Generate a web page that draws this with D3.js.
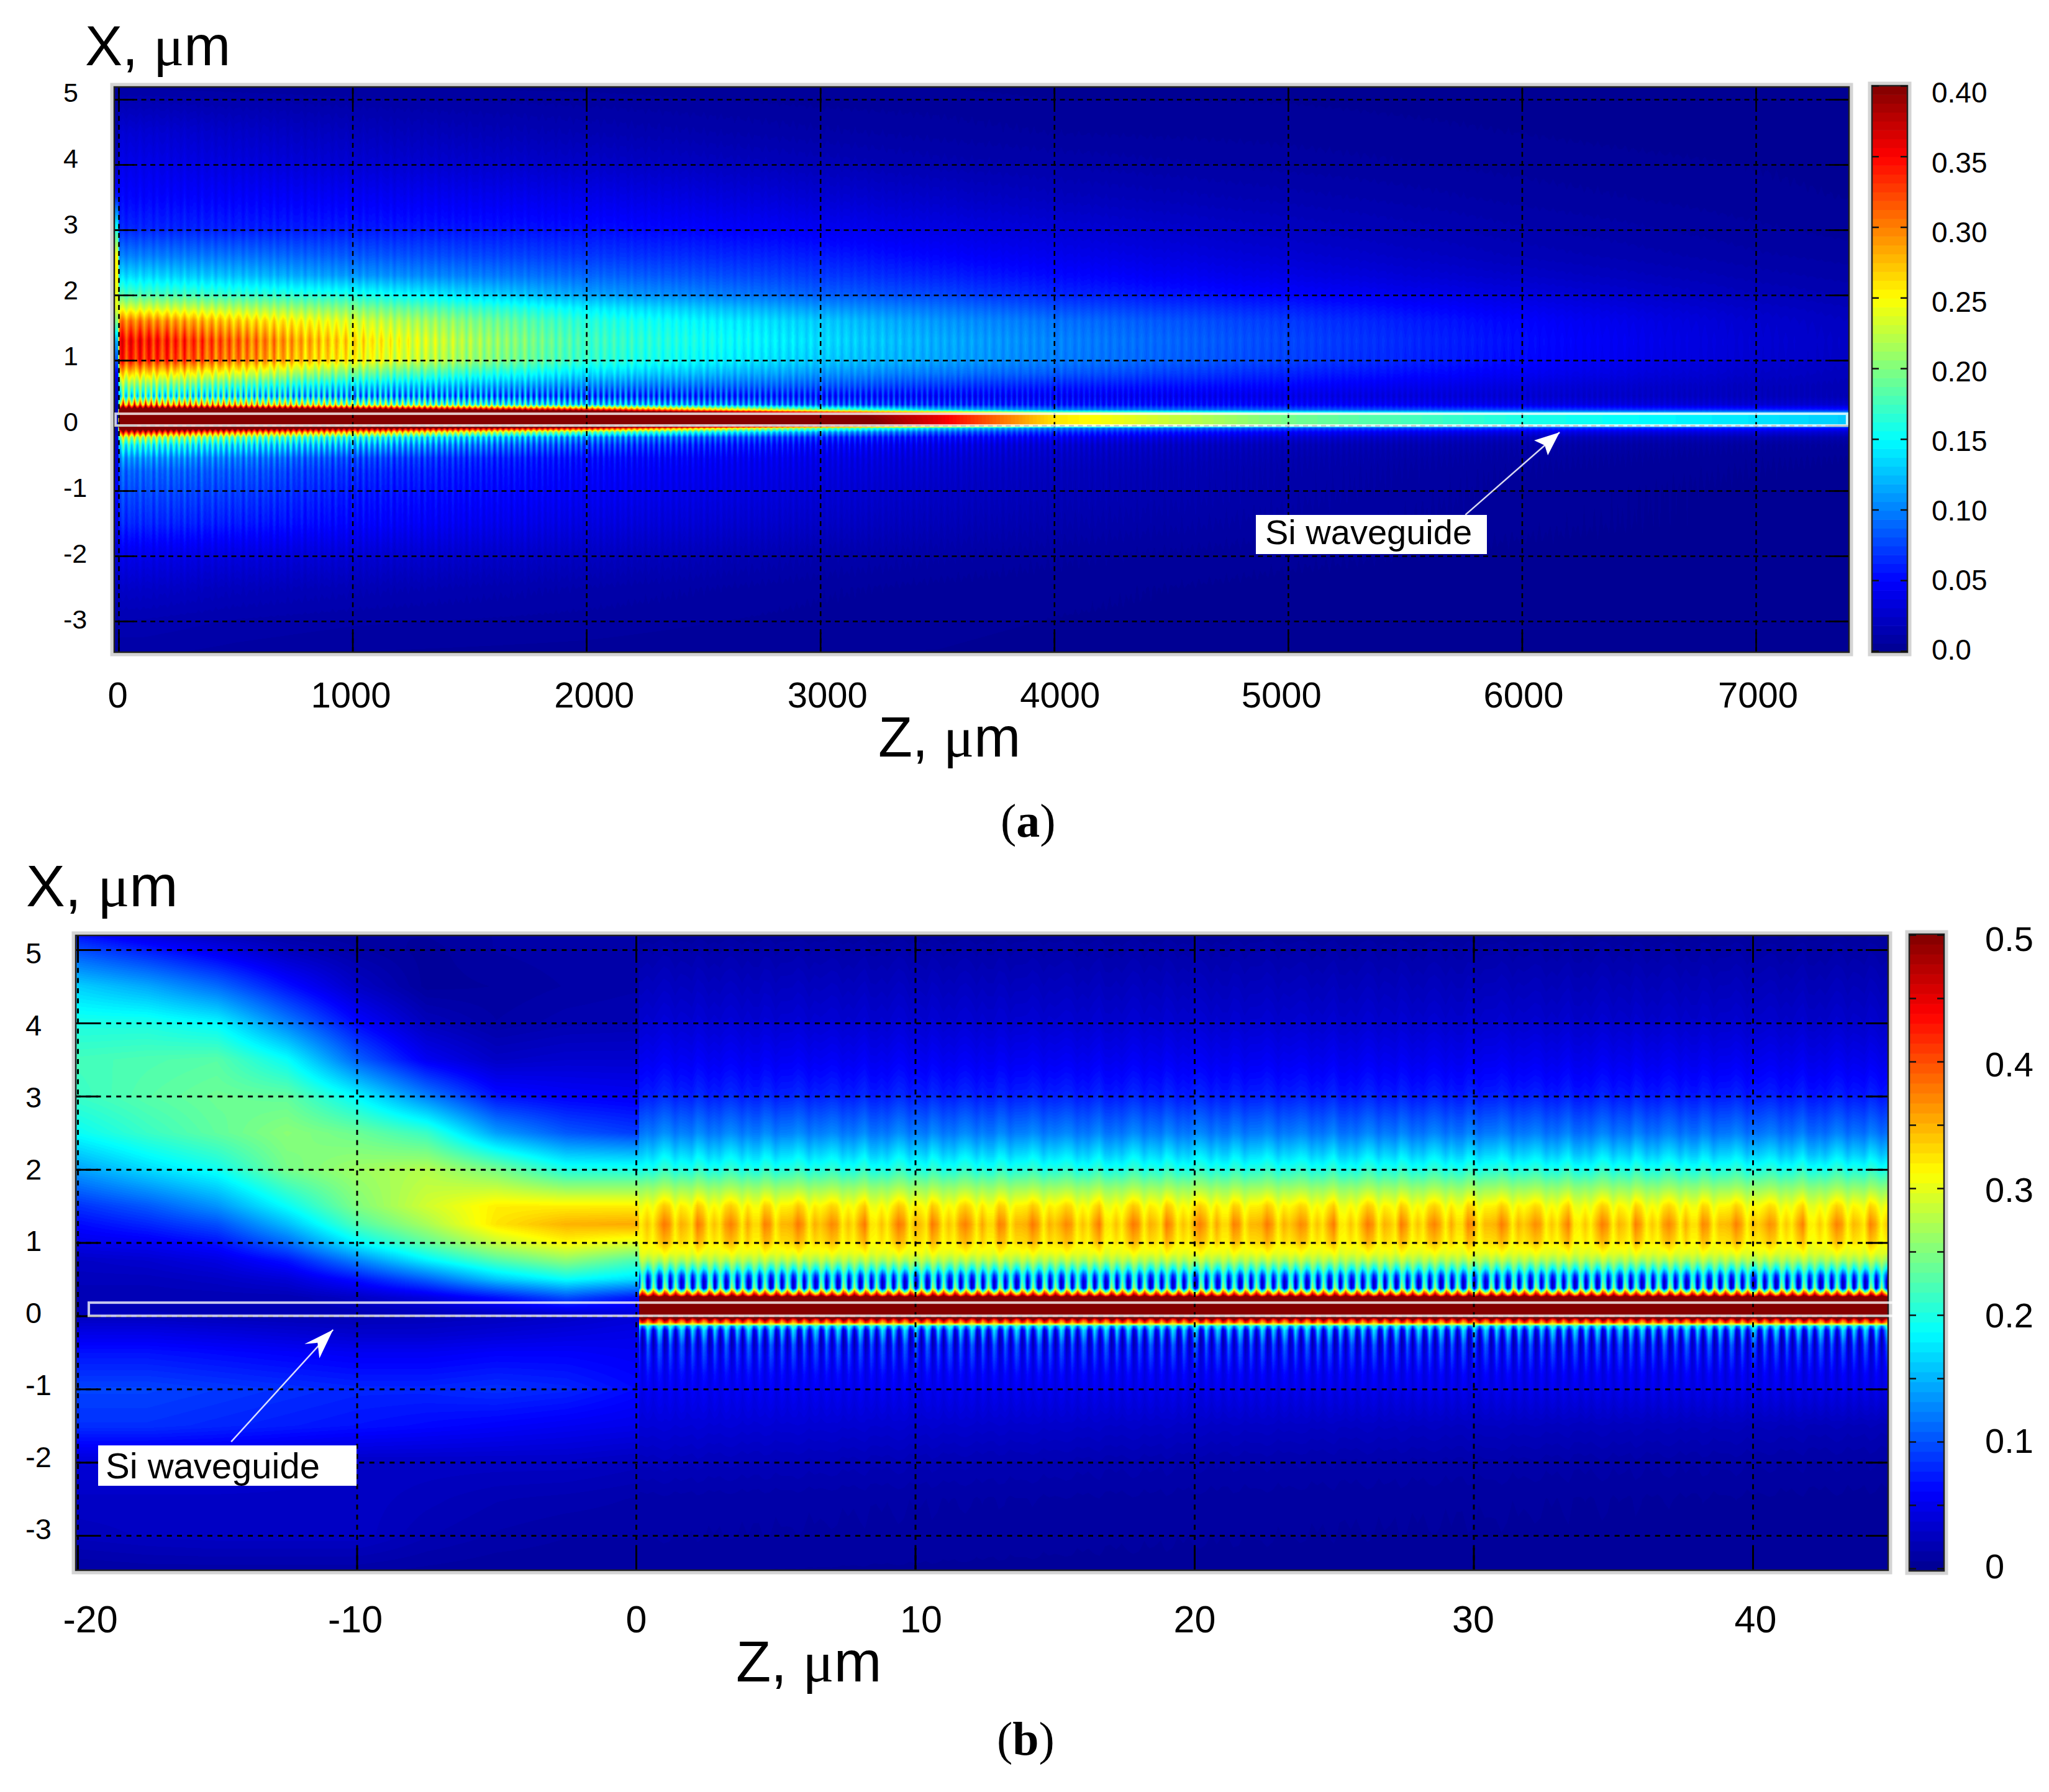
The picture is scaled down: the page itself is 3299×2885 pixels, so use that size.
<!DOCTYPE html>
<html><head><meta charset="utf-8">
<script src="https://cdn.jsdelivr.net/npm/d3@7"></script>
<style>html,body{margin:0;background:#fff}svg{display:block}text{font-family:"Liberation Sans",Arial,sans-serif;fill:#000}</style>
</head><body>
<script>
// ---------- tick labels ----------
const zTicksA = [0,1000,2000,3000,4000,5000,6000,7000];
const xTicksA = [5,4,3,2,1,0,-1,-2,-3];
const cbarTicksA = [0,0.05,0.10,0.15,0.20,0.25,0.30,0.35,0.40];
const zTicksB = [-20,-10,0,10,20,30,40];
const xTicksB = [5,4,3,2,1,0,-1,-2,-3];
const cbarTicksB = [0,0.05,0.1,0.15,0.2,0.25,0.3,0.35,0.4,0.45,0.5];
const cbarLabelsB = [0,0.1,0.2,0.3,0.4,0.5];

// ---------- panel (a): field, one list per Z column ----------
const rowsA = [5.2,4.5,4,3.5,3,2.6,2.3,2,1.8,1.6,1.3,1,.8,.6,.45,.32,.24,.18,0,-.04,-.1,-.18,-.3,-.5,-.7,-1,-1.5,-2,-2.5,-3,-3.5];
const colsA = [-18,-4,4,100,500,1000,2000,3000,3500,4000,5000,6000,7000,7400];
const fieldA = [
 [.005,.01,.02,.06,.16,.25,.25,.24,.24,.2,.12,.08,.05,.03,.03,.02,.02,.02,.02,.02,.02,.03,.03,.04,.04,.05,.04,.03,.02,.01,.005],
 [.005,.01,.02,.06,.16,.25,.25,.24,.24,.2,.12,.08,.05,.03,.03,.02,.02,.02,.02,.02,.02,.03,.03,.04,.04,.05,.04,.03,.02,.01,.005],
 [.008,.03,.04,.05,.065,.10,.135,.18,.235,.3,.345,.335,.265,.2,.17,.3,.47,.6,.6,.47,.36,.23,.16,.11,.09,.08,.065,.04,.025,.015,.01],
 [.008,.03,.04,.05,.065,.10,.135,.18,.235,.3,.345,.335,.265,.2,.17,.3,.47,.6,.6,.47,.36,.23,.16,.11,.09,.08,.065,.04,.025,.015,.01],
 [.007,.025,.035,.048,.062,.095,.125,.17,.22,.27,.31,.3,.24,.175,.15,.27,.47,.6,.6,.45,.32,.2,.145,.1,.085,.075,.06,.035,.02,.012,.008],
 [.006,.02,.03,.045,.06,.085,.11,.16,.2,.235,.26,.25,.195,.14,.12,.22,.45,.6,.6,.42,.29,.17,.125,.08,.068,.06,.05,.03,.017,.01,.006],
 [.005,.015,.025,.04,.055,.072,.09,.115,.145,.165,.175,.17,.14,.105,.085,.14,.36,.55,.55,.36,.2,.11,.08,.055,.05,.046,.036,.022,.012,.008,.005],
 [.003,.01,.018,.03,.045,.06,.072,.088,.11,.13,.137,.13,.11,.085,.065,.09,.2,.42,.44,.2,.12,.07,.05,.04,.036,.032,.024,.013,.007,.005,.003],
 [.003,.008,.014,.025,.038,.05,.062,.078,.095,.11,.118,.115,.097,.072,.055,.07,.13,.36,.36,.14,.09,.055,.04,.032,.028,.024,.018,.01,.005,.004,.003],
 [.002,.006,.012,.02,.032,.042,.052,.065,.08,.095,.102,.1,.085,.062,.05,.06,.1,.26,.26,.1,.07,.045,.03,.024,.02,.018,.013,.007,.004,.003,.002],
 [.002,.005,.008,.014,.022,.03,.038,.05,.062,.072,.077,.075,.063,.05,.04,.05,.085,.195,.195,.08,.05,.03,.018,.014,.012,.011,.008,.004,.002,.002,.001],
 [.001,.003,.005,.008,.013,.018,.025,.035,.043,.05,.054,.052,.045,.034,.03,.04,.075,.16,.16,.07,.04,.02,.012,.008,.006,.005,.004,.002,.001,.001,.001],
 [.001,.001,.003,.004,.007,.01,.014,.019,.024,.028,.03,.029,.025,.02,.02,.03,.065,.14,.14,.06,.035,.015,.007,.004,.003,.002,.002,.001,.001,.001,.001],
 [.001,.001,.002,.003,.005,.008,.011,.015,.019,.022,.024,.023,.02,.017,.017,.028,.06,.13,.13,.055,.03,.013,.006,.003,.002,.002,.001,.001,.001,.001,.001]
];
// interference stripes of panel (a)
const slowStripeAmpA = [0,.002,.003,.004,.004,.005,.007,.008,.012,.02,.03,.03,.018,.008,0,0,0,0,0,0,0,0,.004,.006,.006,.006,.005,.003,.001,0,0];
const fineStripeAmpA = [0,.001,.001,.002,.002,.002,.003,.003,.003,.003,.003,.005,.012,.03,.07,.08,.03,0,0,.04,.05,.05,.04,.02,.012,.008,.006,.003,.001,0,0];
const slowStripeGainA = [0,0,.9,1,.95,.75,.45,.3,.25,.2,.12,.08,.05,.03];
const fineStripeGainA = [0,0,1,1,1,.95,.7,.45,.35,.25,.12,.08,.05,.03];
const slowStripeA = [1,0,-1,0,.9,.1,-1,-.1,1,0,-.9,.1,.8,0,-1,0,1,.2,-.9,-.1,.9,0,-1,.1,1,-.1,-.8,0,.9,.1,-1,0];
const fineStripeA = [1,-.3,-1,-.2,.8,-.2,-1,-.3,1,-.1,-.9,-.4,.7,0,-1,-.3,1,-.2,-.8,-.2,.9,-.3,-1,0];

// ---------- panel (b), input beam z < 0 ----------
const rowsBL = [5.2,5,4.5,4,3.5,3,2.5,2,1.5,1.25,1,.75,.5,.25,0,-.25,-.5,-1,-1.5,-2,-2.5,-3,-3.5];
const colsBL = [-20.1,-17.5,-15,-12.5,-10,-7.5,-5,-2.5,.2];
const fieldBL = [
 [.07,.10,.165,.2,.22,.215,.19,.14,.085,.065,.05,.03,.025,.02,.025,.05,.07,.095,.085,.04,.03,.025,.01],
 [.045,.075,.145,.2,.225,.23,.215,.17,.105,.08,.055,.035,.025,.02,.025,.05,.07,.095,.085,.04,.03,.028,.012],
 [.025,.05,.115,.185,.23,.24,.235,.195,.135,.1,.07,.045,.03,.02,.022,.045,.065,.09,.08,.04,.03,.03,.012],
 [.012,.025,.07,.125,.19,.235,.255,.245,.19,.155,.115,.07,.04,.02,.02,.04,.06,.085,.075,.035,.03,.03,.012],
 [.008,.012,.03,.065,.11,.185,.24,.265,.25,.225,.185,.125,.07,.03,.02,.035,.055,.08,.07,.03,.03,.03,.012],
 [.008,.006,.006,.025,.055,.125,.215,.275,.29,.27,.235,.18,.11,.045,.022,.035,.055,.08,.065,.03,.025,.02,.01],
 [.012,.012,.008,.012,.03,.07,.14,.245,.32,.325,.285,.225,.16,.07,.025,.04,.06,.085,.06,.03,.02,.015,.008],
 [.014,.014,.012,.018,.035,.06,.105,.2,.32,.35,.315,.255,.19,.1,.03,.045,.06,.08,.055,.03,.018,.012,.008],
 [.015,.015,.015,.02,.035,.055,.09,.2,.32,.355,.295,.22,.17,.07,.04,.05,.055,.065,.05,.025,.015,.012,.008]
];

// ---------- panel (b), waveguide z > 0 ----------
const rowsBR = [5.2,5,4.5,4,3.5,3,2.5,2.2,2,1.75,1.5,1.25,1,.85,.75,.64,.55,.47,.38,.33,.28,.24,0,-.055,-.1,-.14,-.2,-.3,-.4,-.55,-.8,-1,-1.5,-2,-2.5,-3,-3.5];
const colsBR = [0,20,45];
const fieldBR = [
 [.008,.015,.026,.037,.055,.077,.122,.167,.2,.26,.31,.335,.32,.3,.27,.21,.145,.13,.15,.30,.44,.6,.6,.45,.37,.17,.105,.08,.065,.068,.06,.055,.04,.025,.014,.012,.008],
 [.008,.014,.024,.035,.053,.075,.12,.165,.2,.26,.31,.335,.32,.3,.27,.21,.145,.13,.15,.30,.44,.6,.6,.45,.37,.17,.105,.08,.065,.065,.055,.05,.03,.016,.01,.008,.006],
 [.006,.012,.022,.032,.05,.072,.115,.16,.198,.255,.305,.33,.315,.295,.265,.205,.14,.125,.145,.30,.44,.6,.6,.45,.37,.17,.105,.08,.065,.062,.052,.048,.022,.011,.006,.005,.005]
];
const fineStripeAmpB = [0,0,0,0,0,0,0,0,0,0,0,0,0,-.006,-.015,-.04,-.075,-.11,-.13,-.1,-.06,0,0,-.06,-.04,.06,.075,.07,.05,.032,.012,.006,0,0,0,0,0];
const bandStripeAmpB = [.002,.003,.004,.005,.006,.008,.012,.018,.015,.012,.03,.045,.03,.01,.004,0,0,0,0,0,0,0,0,0,0,0,0,0,0,0,0,.001,.002,.002,.001,.001,0];
const fineStripeB = [1,.2,-1,-.2,1,.5,-1,-.5,1,.1,-1,0,.9,.5,-1,-.4,1,.2,-.9,-.1,1,.5,-1,-.5,1,.1,-1,-.2,1,.4,-1,-.5,.9,.2,-1,0,1,.5,-.9,-.4,1,.1,-1,-.1,1,.5,-1,-.4];
const bandStripeB = [-.2,-.3,.2,-.3,.4,1,.7,-.3,.4,.2,-.2,1,.6,-.3,.2,-.2,.6,.9,.5,-.3,.5,-.1,-.1,.9,.7,-.3,.3,.3,.4,1,.6,-.3,.4,.1,.4,.8,.6,-.3,.2,-.2,.5,1];

// ---------- waveguide outlines & annotations (data units) ----------
const waveguideXSpan = [0,.18];
const waveguideZSpanA = [-13,7390];
const waveguideZSpanB = [-19.6,45.05];
const calloutA = {tail:[5758,-1.37], tip:[6161,-.105]};
const calloutB = {tail:[-14.5,-1.72], tip:[-10.85,-.19]};

// ---------- layout ----------
const svg = d3.select("body").append("svg").attr("width",3299).attr("height",2885);
const A = {l:184,r:2977,t:140,b:1050, x:d3.scaleLinear([0,7000],[191,2827]), y:d3.scaleLinear([5,-3],[160,1000])};
const B = {l:122,r:3040,t:1506,b:2528, x:d3.scaleLinear([-20,40],[125,2822]), y:d3.scaleLinear([5,-3],[1529,2472])};
const cbA = {l:3014,r:3071,t:138,b:1050, y:d3.scaleLinear([0,.4],[1048,138]), max:.4};
const cbB = {l:3074,r:3130,t:1504,b:2529, y:d3.scaleLinear([0,.5],[2525,1505]), max:.5};

// jet colormap
const jet = d3.scaleLinear([0,1/8,3/8,5/8,7/8,1],["#00008f","#0000ff","#00ffff","#ffff00","#ff0000","#800000"]).clamp(true);
const lutN = 128, lut = d3.range(lutN).map(i=>{const c=d3.rgb(jet((i+.5)/lutN));return [c.r,c.g,c.b];});

// draw a field through the panel's scales into an image
function heat(P, x0, x1, max, rows, cols, field, stripes){
  const W=x1-x0, H=P.b-P.t, cv=document.createElement("canvas"); cv.width=W; cv.height=H;
  const ctx=cv.getContext("2d"), im=ctx.createImageData(W,H), d=im.data;
  const colIdx=d3.scaleLinear(cols,d3.range(cols.length)).clamp(true);
  const rowIdx=d3.scaleLinear(rows,d3.range(rows.length)).clamp(true);
  const rFrac=d3.range(H).map(j=>rowIdx(P.y.invert(P.t+j+.5)));
  const R=rows.length, v=new Float64Array(R);
  for(let i=0;i<W;i++){
    const z=P.x.invert(x0+i+.5), ci=colIdx(z), c0=Math.min(Math.floor(ci),cols.length-2), cf=ci-c0;
    for(let r=0;r<R;r++) v[r]=field[c0][r]*(1-cf)+field[c0+1][r]*cf;
    for(const s of stripes){
      const p=(z-s.phase)/s.step, k=Math.floor(p), f=p-k, n=s.list.length;
      const a=s.list[((k%n)+n)%n], b=s.list[(((k+1)%n)+n)%n], w=a*(1-f)+b*f;
      const g=s.gain?(s.gain[c0]*(1-cf)+s.gain[c0+1]*cf):1;
      for(let r=0;r<R;r++) v[r]+=s.amp[r]*g*w;
    }
    for(let j=0;j<H;j++){
      const rf=rFrac[j], r0=Math.min(Math.floor(rf),R-2), t=rf-r0;
      const val=v[r0]*(1-t)+v[r0+1]*t;
      let q=Math.floor(val/max*lutN); q=q<0?0:q>=lutN?lutN-1:q;
      const o=(j*W+i)*4, c=lut[q];
      d[o]=c[0];d[o+1]=c[1];d[o+2]=c[2];d[o+3]=255;
    }
  }
  ctx.putImageData(im,0,0);
  svg.append("image").attr("x",x0).attr("y",P.t).attr("width",W).attr("height",H)
     .attr("href",cv.toDataURL());
}

// frames, grid, labels
function frame(g,l,t,r,b){
  g.append("rect").attr("x",l-3).attr("y",t-3).attr("width",r-l+6).attr("height",b-t+6)
    .attr("fill","none").attr("stroke","#d4d4d4").attr("stroke-width",7);
  g.append("rect").attr("x",l).attr("y",t).attr("width",r-l).attr("height",b-t)
    .attr("fill","none").attr("stroke","#222").attr("stroke-width",2.5);
}
function panelAxes(P,zTicks,xTicks,opt){
  const W=P.r-P.l,H=P.b-P.t;
  const gx=svg.append("g").attr("transform",`translate(0,${P.b})`)
    .call(d3.axisBottom(P.x).tickValues(zTicks).tickSize(-H).tickFormat(d=>d));
  const gy=svg.append("g").attr("transform",`translate(${P.l},0)`)
    .call(d3.axisLeft(P.y).tickValues(xTicks).tickSize(-W).tickFormat(d=>d));
  [gx,gy].forEach(g=>{g.select(".domain").remove();
    g.selectAll("line").attr("stroke","#000").attr("stroke-width",opt.grid).attr("stroke-dasharray",opt.dash);});
  gx.selectAll("text").attr("font-size",opt.zSize).attr("y",opt.zBase-P.b).attr("dy",0)
    .attr("dx",(d,i)=>opt.zNudge[i]);
  gy.selectAll("text").attr("font-size",opt.xSize).attr("text-anchor","start")
    .attr("x",opt.xLeft-P.l).attr("dy",d=>opt.xShift(d)+opt.xSize*.358);
  // solid tick stubs at all four edges
  const stub=(gen,tr)=>{const g=svg.append("g").attr("transform",tr).call(gen.tickFormat(""));
    g.select(".domain").remove();g.selectAll("line").attr("stroke","#000").attr("stroke-width",opt.grid);};
  stub(d3.axisBottom(P.x).tickValues(zTicks).tickSize(-opt.stub),`translate(0,${P.b})`);
  stub(d3.axisTop(P.x).tickValues(zTicks).tickSize(-opt.stub),`translate(0,${P.t})`);
  stub(d3.axisLeft(P.y).tickValues(xTicks).tickSize(-opt.stub),`translate(${P.l},0)`);
  stub(d3.axisRight(P.y).tickValues(xTicks).tickSize(-opt.stub),`translate(${P.r},0)`);
  frame(svg.append("g"),P.l,P.t,P.r,P.b);
}
function colorbar(C,ticks,labels,fmt,opt){
  const steps=d3.range(64);
  const h=d3.scaleBand(steps,[C.b,C.t]);
  svg.append("g").selectAll("rect").data(steps).join("rect")
    .attr("x",C.l).attr("width",C.r-C.l).attr("y",d=>h(d)).attr("height",h.bandwidth()+.6)
    .attr("fill",d=>jet((d+.5)/64));
  frame(svg.append("g"),C.l,C.t,C.r,C.b);
  const a1=svg.append("g").attr("transform",`translate(${C.l},0)`).call(d3.axisLeft(C.y).tickValues(ticks).tickSize(-11).tickFormat(""));
  const a2=svg.append("g").attr("transform",`translate(${C.r},0)`).call(d3.axisRight(C.y).tickValues(ticks).tickSize(-11).tickFormat(""));
  [a1,a2].forEach(g=>{g.select(".domain").remove();g.selectAll("line").attr("stroke","#111").attr("stroke-width",2.5);});
  svg.append("g").selectAll("text").data(labels).join("text")
    .attr("x",opt.x).attr("y",d=>C.y(d)+opt.nudge(d)+opt.size*.358)
    .attr("font-size",opt.size).text(fmt);
}
function axisTitle(x,y,size,letter){
  const t=svg.append("text").attr("x",x).attr("y",y).attr("font-size",size);
  t.append("tspan").text(letter+", ");
  t.append("tspan").text("\u03BC").style("font-family","'Liberation Serif',serif").attr("font-size",size*1.02);
  t.append("tspan").text("m");
}
function panelTag(x,y,size,ch){
  const t=svg.append("text").attr("x",x).attr("y",y).attr("font-size",size).style("font-family","'Liberation Serif',serif");
  t.append("tspan").text("(").style("font-family","'Liberation Serif',serif");
  t.append("tspan").text(ch).style("font-weight","bold").style("font-family","'Liberation Serif',serif");
  t.append("tspan").text(")").style("font-family","'Liberation Serif',serif");
}
function waveguide(P,zs,sw){
  const x0=P.x(zs[0]),x1=P.x(zs[1]),y0=P.y(waveguideXSpan[1]),y1=P.y(waveguideXSpan[0]);
  svg.append("rect").attr("x",x0).attr("y",y0).attr("width",x1-x0).attr("height",y1-y0)
    .attr("fill","none").attr("stroke","#fff").attr("stroke-opacity",.78).attr("stroke-width",sw);
}
function callout(P,c,wing,box,txt,size){
  const [tx,ty]=[P.x(c.tip[0]),P.y(c.tip[1])],[sx,sy]=[P.x(c.tail[0]),P.y(c.tail[1])];
  svg.append("line").attr("x1",sx).attr("y1",sy).attr("x2",tx).attr("y2",ty)
    .attr("stroke","#fff").attr("stroke-opacity",.85).attr("stroke-width",2.5);
  svg.append("path").attr("fill","#fff")
    .attr("d",d3.line()([[tx,ty],[tx+wing[0][0],ty+wing[0][1]],[tx+wing[1][0],ty+wing[1][1]],[tx+wing[2][0],ty+wing[2][1]]])+"Z");
  svg.append("rect").attr("x",box[0]).attr("y",box[1]).attr("width",box[2]).attr("height",box[3]).attr("fill","#fff");
  svg.append("text").attr("x",box[4]).attr("y",box[5]).attr("font-size",size).text(txt);
}

// ---------- panel (a) ----------
heat(A,A.l,A.r,cbA.max,rowsA,colsA,fieldA,[
  {list:slowStripeA,step:9.56,phase:53,amp:slowStripeAmpA,gain:slowStripeGainA},
  {list:fineStripeA,step:5.97,phase:20,amp:fineStripeAmpA,gain:fineStripeGainA}
]);
panelAxes(A,zTicksA,xTicksA,{grid:2.6,dash:"8 6.5",zSize:58,zBase:1139,
  zNudge:[-2,-3,12,11,9,-11,2,3],xSize:43,xLeft:102,xShift:d=>-12+(5-d),stub:32});
waveguide(A,waveguideZSpanA,4);
callout(A,calloutA,[[-41,13],[-24,21],[-19,37]],[2022,829,372,63,2037,876],"Si waveguide",56);
colorbar(cbA,cbarTicksA,cbarTicksA,d=>d===0?"0.0":d3.format(".2f")(d),{x:3110,size:46,nudge:d=>-2+13*d/.4});
axisTitle(137,105,90,"X");
axisTitle(1414,1218,90,"Z");
panelTag(1611,1347,76,"a");

// ---------- panel (b) ----------
heat(B,B.l,1029,cbB.max,rowsBL,colsBL,fieldBL,[]);
heat(B,1029,B.r,cbB.max,rowsBR,colsBR,fieldBR,[
  {list:fineStripeB,step:.1,phase:.42,amp:fineStripeAmpB},
  {list:bandStripeB,step:.2,phase:0,amp:bandStripeAmpB}
]);
panelAxes(B,zTicksB,xTicksB,{grid:3,dash:"8 8.3",zSize:61,zBase:2628,
  zNudge:[20,-3,0,9,0,-1,4],xSize:47,xLeft:41,xShift:d=>5-2.1*(5-d),stub:36});
waveguide(B,waveguideZSpanB,4);
callout(B,calloutB,[[-46,23],[-25,21],[-22,46]],[158,2327,416,65,170,2380],"Si waveguide",58);
colorbar(cbB,cbarTicksB,cbarLabelsB,d=>d,{x:3196,size:56,nudge:d=>-4+10*d/.5});
axisTitle(42,1459,94,"X");
axisTitle(1185,2707,92,"Z");
panelTag(1605,2825,76,"b");
</script>
</body></html>
